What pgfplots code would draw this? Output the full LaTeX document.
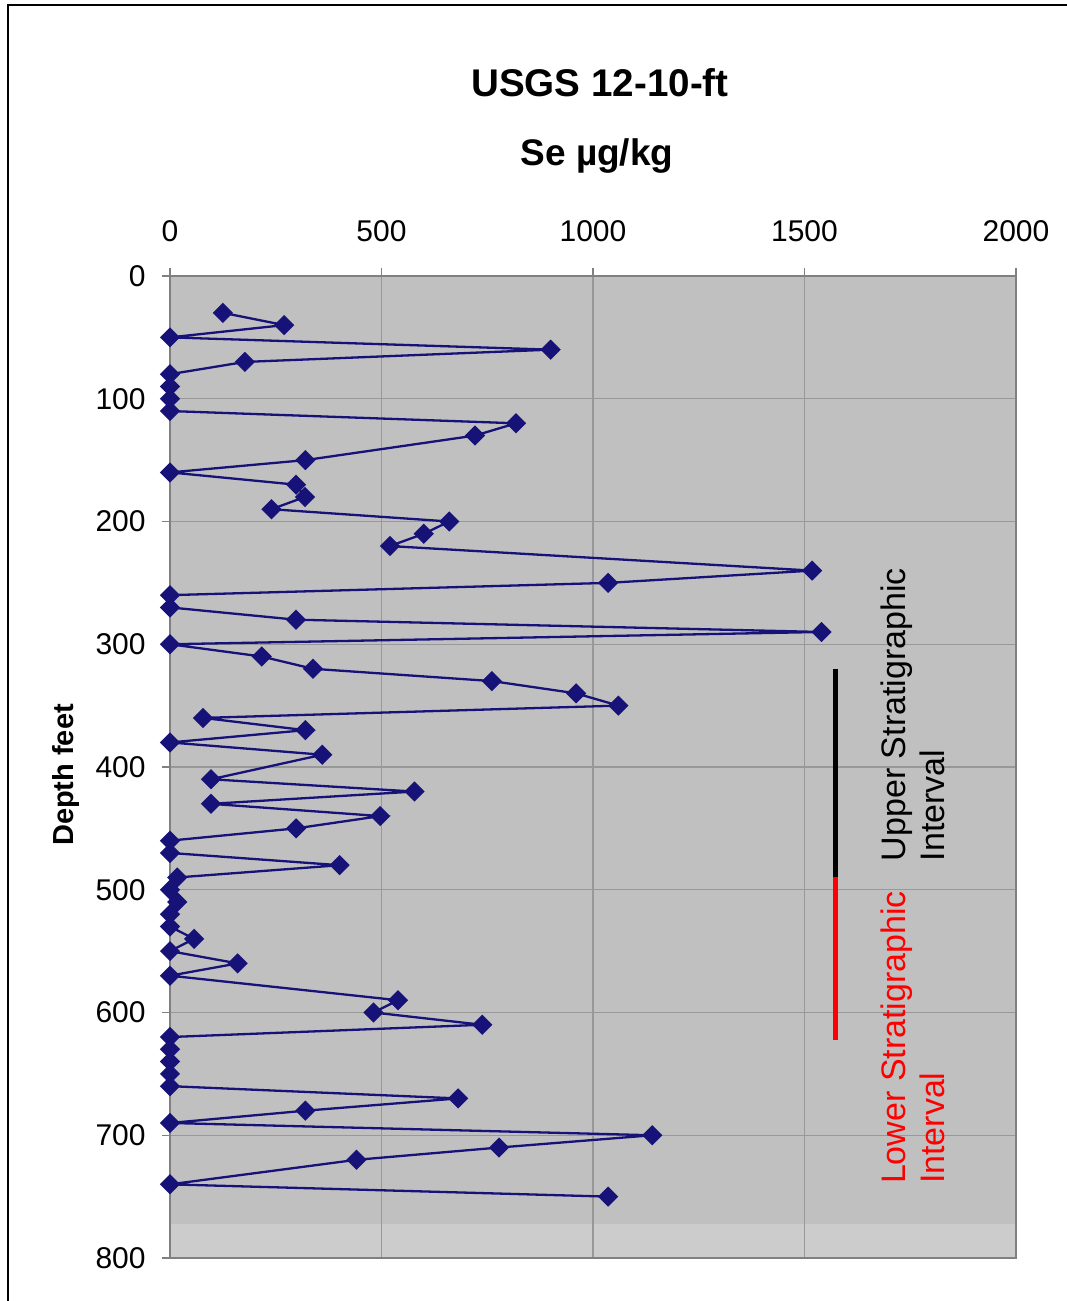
\documentclass[border=0pt]{standalone}
\usepackage{fontspec}
\setmainfont{Liberation Sans}
\usepackage{pgfplots}
\pgfplotsset{compat=1.18}
\definecolor{navyse}{RGB}{22,18,120}
\definecolor{plotbg}{RGB}{192,192,192}
\definecolor{plotband}{RGB}{204,204,204}
\definecolor{gridc}{RGB}{152,152,152}
\definecolor{framec}{RGB}{128,128,128}

% Se concentration (ug/kg) against depth (feet)
\pgfplotstableread{
se    depth
125   30
270   40
0     50
900   60
177   70
0     80
0     90
0     100
0     110
818   120
721   130
320   150
0     160
298   170
319   180
240   190
660   200
600   210
520   220
1518  240
1036  250
0     260
0     270
298   280
1540  290
0     300
217   310
338   320
761   330
960   340
1060  350
78    360
320   370
0     380
360   390
97    410
578   420
97    430
497   440
298   450
0     460
0     470
401   480
17    490
0     500
17    510
0     520
0     530
57    540
0     550
160   560
0     570
539   590
481   600
738   610
0     620
0     630
0     640
0     650
0     660
681   670
320   680
0     690
1140  700
778   710
441   720
0     740
1036  750
}\sedata

\begin{document}
\begin{tikzpicture}
\begin{axis}[
  set layers,
  at={(85pt,21.5pt)}, anchor=south west,
  scale only axis, width=423pt, height=491pt,
  xmin=0, xmax=2000, ymin=0, ymax=800,
  y dir=reverse,
  xtick={0,500,...,2000}, ytick={0,100,...,800},
  xtick pos=right, ytick pos=left,
  xticklabel pos=right, yticklabel pos=left,
  tick align=outside, major tick length=4pt,
  tick style={framec, line width=0.6pt},
  grid=major, major grid style={gridc, line width=0.6pt},
  axis line style={framec, line width=0.9pt},
  /pgf/number format/assume math mode=true,
  /pgf/number format/set thousands separator={},
  tick label style={font=\fontsize{15}{18}\selectfont, inner sep=0pt},
  xticklabel shift=13pt,
  yticklabel shift=8pt,
]
% plot area fill, with the lighter band at the foot
\addplot[draw=none, fill=plotbg, on layer=axis background]
  coordinates {(0,0) (2000,0) (2000,772.5) (0,772.5)} -- cycle;
\addplot[draw=none, fill=plotband, on layer=axis background]
  coordinates {(0,772.5) (2000,772.5) (2000,800) (0,800)} -- cycle;
\addplot[navyse, line width=1.15pt, mark=square*, mark size=3.0pt,
  mark options={rotate=45, solid, fill=navyse}] table[x=se, y=depth] {\sedata};
% stratigraphic intervals
\addplot[black, line width=2.5pt, no marks] coordinates {(1573,320) (1573,490)};
\addplot[red, line width=2.5pt, no marks] coordinates {(1573,490) (1573,622)};
\node[rotate=90, anchor=west, align=left, inner sep=0pt,
  font=\fontsize{17}{19.5}\selectfont] at (axis cs:1756,477) {Upper Stratigraphic\\Interval};
\node[rotate=90, anchor=west, align=left, inner sep=0pt, text=red,
  font=\fontsize{17}{19.5}\selectfont] at (axis cs:1756,740) {Lower Stratigraphic\\Interval};
\end{axis}
\draw[black, line width=1.2pt] (4pt,-20pt) rectangle (580pt,648pt);
\node[anchor=base, font=\bfseries\fontsize{19.3}{22}\selectfont] at (300pt,602.2pt) {USGS 12-10-ft};
\node[anchor=base, font=\bfseries\fontsize{18.5}{22}\selectfont] at (298.5pt,567.5pt) {Se µg/kg};
\node[rotate=90, font=\bfseries\fontsize{14.5}{17}\selectfont] at (33pt,263pt) {Depth feet};
\pgfresetboundingbox
\path[use as bounding box] (0pt,0pt) rectangle (533pt,650.5pt);
\end{tikzpicture}
\end{document}
